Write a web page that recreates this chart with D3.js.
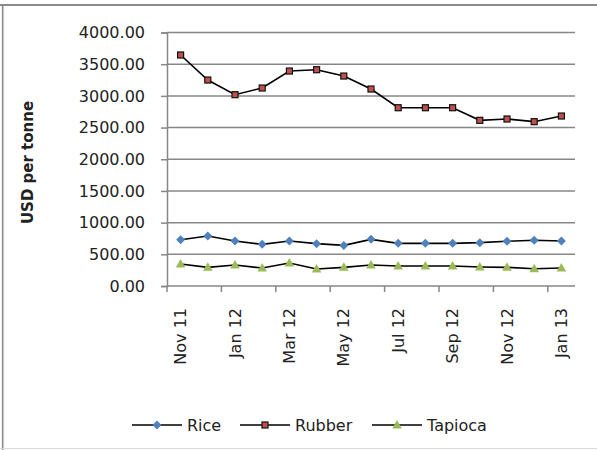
<!DOCTYPE html>
<html><head><meta charset="utf-8">
<script src="https://cdn.jsdelivr.net/npm/d3@7"></script>
<style>
html,body{margin:0;padding:0;background:#fff;}
svg{display:block;font-family:"DejaVu Sans",sans-serif;}
</style></head>
<body>
<svg id="chart" width="597" height="450"></svg>
<script>
const months = ["Nov 11","Dec 11","Jan 12","Feb 12","Mar 12","Apr 12","May 12","Jun 12","Jul 12","Aug 12","Sep 12","Oct 12","Nov 12","Dec 12","Jan 13"];
const rice    = [731, 789, 710, 657, 710, 668, 641, 736, 673, 673, 673, 684, 705, 721, 710];
const rubber  = [3645, 3250, 3019, 3124, 3392, 3413, 3313, 3108, 2813, 2813, 2813, 2614, 2635, 2593, 2682];
const tapioca = [347, 294, 331, 284, 363, 268, 294, 331, 315, 315, 315, 300, 294, 273, 284];
const yTicks = [0, 500, 1000, 1500, 2000, 2500, 3000, 3500, 4000];
const seriesNames = ["Rice", "Rubber", "Tapioca"];

(function(){
const svg = d3.select("#chart");
const gridColor = "#878787";

// outer frame
svg.append("line").attr("x1",0).attr("x2",597).attr("y1",5).attr("y2",5).attr("stroke","#8a8a8a").attr("stroke-width",2);
svg.append("line").attr("x1",2.7).attr("x2",2.7).attr("y1",5).attr("y2",450).attr("stroke","#8a8a8a").attr("stroke-width",1.6);
svg.append("line").attr("x1",0).attr("x2",597).attr("y1",448.5).attr("y2",448.5).attr("stroke","#d9d9d9").attr("stroke-width",1);

const pL = 167, pR = 575, pT = 32.5, pB = 286;
const x = d3.scaleBand().domain(months).range([pL, pR]).paddingInner(0).paddingOuter(0);
const y = d3.scaleLinear().domain([0, 4000]).range([pB, pT]);

// gridlines
svg.append("g").selectAll("line").data(yTicks.filter(d => d > 0)).join("line")
  .attr("x1", pL).attr("x2", pR)
  .attr("y1", d => y(d)).attr("y2", d => y(d))
  .attr("stroke", gridColor).attr("stroke-width", 1.5);

// y axis
const yAxis = d3.axisLeft(y).tickValues(yTicks).tickSize(6).tickPadding(16).tickFormat(d3.format(".2f"));
const gy = svg.append("g").attr("transform", `translate(${pL},0)`).call(yAxis);
gy.select(".domain").attr("stroke", gridColor).attr("stroke-width", 1.5);
gy.selectAll(".tick line").attr("stroke", gridColor).attr("stroke-width", 1.5);
gy.selectAll("text").attr("font-family", "DejaVu Sans").attr("font-size", 16).attr("fill", "#222");

// x axis
const tickBoundaries = months.map((m, i) => i).filter(i => i % 2 === 0);
const gx = svg.append("g").attr("transform", `translate(0,${pB})`);
gx.append("line").attr("x1", pL).attr("x2", pR).attr("y1", 0).attr("y2", 0).attr("stroke", gridColor).attr("stroke-width", 1.5);
gx.selectAll("line.tk").data(tickBoundaries).join("line").attr("class","tk")
  .attr("x1", i => x(months[i])).attr("x2", i => x(months[i]))
  .attr("y1", 0).attr("y2", 6).attr("stroke", gridColor).attr("stroke-width", 1.5);
gx.selectAll("text").data(months.filter((m, i) => i % 2 === 0)).join("text")
  .attr("transform", d => `translate(${x(d) + x.bandwidth()/2 + 5.5},22) rotate(-90)`)
  .attr("text-anchor", "end")
  .attr("font-size", 16).attr("fill", "#222")
  .text(d => d);

// y title
svg.append("text").attr("transform", "translate(33,162.5) rotate(-90)")
  .attr("text-anchor", "middle").attr("font-weight", "bold").attr("font-size", 15).attr("fill", "#222")
  .text("USD per tonne");

const cx = d => x(d) + x.bandwidth()/2;
const line = d3.line().x((d, i) => cx(months[i])).y(d => y(d));

const markers = {
  Rice: (g, px, py) => g.append("path").attr("d", `M${px},${py-4.5}L${px+4.5},${py}L${px},${py+4.5}L${px-4.5},${py}Z`).attr("fill", "#4f81bd"),
  Rubber: (g, px, py) => g.append("rect").attr("x", px-3).attr("y", py-3).attr("width", 6).attr("height", 6).attr("fill", "#c0504d").attr("stroke", "#111").attr("stroke-width", 1.2),
  Tapioca: (g, px, py) => g.append("path").attr("d", `M${px},${py-5}L${px+4.8},${py+3.5}L${px-4.8},${py+3.5}Z`).attr("fill", "#9bbb59")
};
const data = {Rice: rice, Rubber: rubber, Tapioca: tapioca};

seriesNames.forEach(name => {
  const vals = data[name];
  const g = svg.append("g");
  g.append("path").datum(vals).attr("d", line).attr("fill", "none").attr("stroke", "#000").attr("stroke-width", 1.6);
  vals.forEach((v, i) => markers[name](g, cx(months[i]), y(v)));
});

// legend
const legendX = [132, 240, 372];
seriesNames.forEach((name, i) => {
  const g = svg.append("g");
  const lx = legendX[i], ly = 425;
  g.append("line").attr("x1", lx).attr("x2", lx + 50).attr("y1", ly).attr("y2", ly).attr("stroke", "#000").attr("stroke-width", 1.6);
  markers[name](g, lx + 25, ly);
  g.append("text").attr("x", lx + 55).attr("y", ly + 5.5).attr("font-size", 16).attr("fill", "#222").text(name);
});
})();
</script>
</body></html>
